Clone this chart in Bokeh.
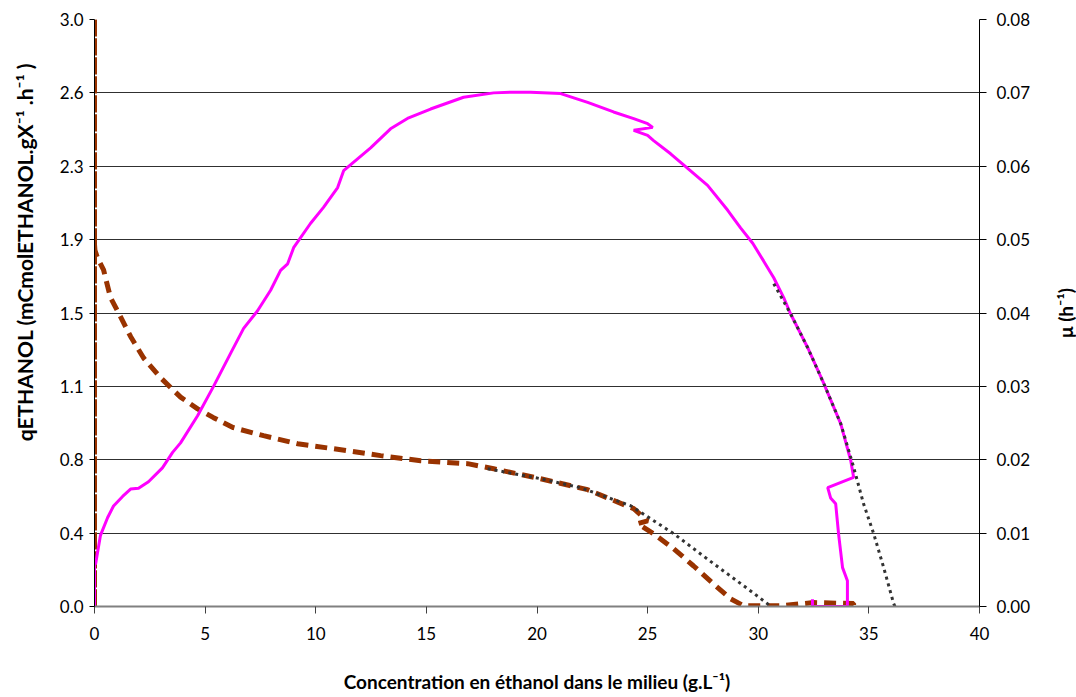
import math
from bokeh.plotting import figure
from bokeh.layouts import row
from bokeh.models import Range1d, LinearAxis, FixedTicker, PrintfTickFormatter
from bokeh.core.properties import value
from bokeh.embed import file_html
from bokeh.resources import INLINE

# ---------------- data ----------------
# qETHANOL (left axis) : measured, brown dashed
q_x = [0.0, 0.0, 0.0, 0.0, 0.02, 0.14, 0.41, 0.72, 1.18, 1.63, 2.22, 2.98, 3.89, 4.66, 5.38,
       6.28, 7.64, 9.18, 11.44, 12.93, 14.74, 16.86, 18.04, 20.16, 22.29, 24.37, 25.00,
       24.55, 25.27, 26.18, 27.08, 27.98, 28.75, 29.34, 31.01, 32.51, 34.31, 34.31]
q_y = [0.0, 3.2, 0.0, 1.85, 1.82, 1.78, 1.72, 1.58, 1.48, 1.38, 1.27, 1.17, 1.07, 1.01, 0.965,
       0.914, 0.873, 0.832, 0.796, 0.771, 0.745, 0.730, 0.704, 0.653, 0.597, 0.500, 0.438,
       0.423, 0.372, 0.295, 0.207, 0.115, 0.039, 0.004, 0.004, 0.020, 0.015, 0.0]

# qETHANOL model (dotted)
qm_x = [17.77, 20.16, 21.97, 24.23, 26.18, 27.98, 29.52, 30.42, 30.56]
qm_y = [0.704, 0.653, 0.607, 0.515, 0.372, 0.219, 0.091, 0.014, 0.0]

# mu (right axis) : measured, magenta
mu_x = [0.0, 0.0, 0.05, 0.27, 0.59, 0.86, 1.27, 1.63, 1.99, 2.44, 3.07, 3.53, 3.89, 4.66,
        5.38, 6.15, 6.74, 7.37, 7.96, 8.41, 8.73, 9.00, 9.76, 10.35, 10.99, 11.26, 11.89,
        12.48, 13.38, 14.20, 15.19, 16.68, 18.04, 18.94, 19.71, 21.07, 22.29, 23.46, 24.37,
        25.00, 25.23, 24.37, 25.00, 25.27, 26.04, 26.81, 27.71, 28.62, 29.20, 29.75, 30.24,
        30.70, 31.15, 31.46, 32.23, 32.96, 33.73, 34.18, 34.31, 33.14, 33.27, 33.50, 33.63,
        33.81, 34.03, 34.03, 34.03, 32.45, 32.45]
mu_y = [0.0, 0.0058, 0.0058, 0.0097, 0.0121, 0.0137, 0.0150, 0.0160, 0.0161, 0.0170,
        0.0189, 0.0210, 0.0223, 0.0260, 0.0300, 0.0345, 0.0379, 0.0403, 0.0431, 0.0458,
        0.0467, 0.0489, 0.0522, 0.0544, 0.0571, 0.0594, 0.0610, 0.0625, 0.0651, 0.0666,
        0.0678, 0.0694, 0.0700, 0.0701, 0.0701, 0.0699, 0.0687, 0.0674, 0.0665, 0.0658,
        0.0653, 0.0649, 0.0642, 0.0635, 0.0617, 0.0597, 0.0574, 0.0540, 0.0516, 0.0495,
        0.0471, 0.0448, 0.0421, 0.0399, 0.0353, 0.0304, 0.0249, 0.0199, 0.0176, 0.0162,
        0.0148, 0.0140, 0.0099, 0.0053, 0.0035, 0.0004, 0.0, 0.0, 0.001]

# mu model (dotted)
mum_x = [30.70, 31.46, 32.23, 32.96, 33.73, 34.31, 34.76, 35.22, 35.67, 36.12, 36.18]
mum_y = [0.0440, 0.0399, 0.0353, 0.0304, 0.0249, 0.0190, 0.0140, 0.0099, 0.0053, 0.0004, 0.0]

x_ticks = [0, 5, 10, 15, 20, 25, 30, 35, 40]
q_ticks = [0.0, 0.375, 0.75, 1.125, 1.5, 1.875, 2.25, 2.625, 3.0]
q_tick_labels = ["0.0", "0.4", "0.8", "1.1", "1.5", "1.9", "2.3", "2.6", "3.0"]
mu_ticks = [0.0, 0.01, 0.02, 0.03, 0.04, 0.05, 0.06, 0.07, 0.08]
mu_title = ["μ (h⁻¹)"]

FONT = "Lato"
H = 696

p = figure(width=1046, height=H, output_backend="svg", toolbar_location=None,
           x_range=Range1d(0, 40), y_range=Range1d(0, 3.0),
           min_border_left=94, min_border_right=67, min_border_top=19, min_border_bottom=90)
p.outline_line_color = None
p.background_fill_color = "white"
p.extra_y_ranges = {"mu": Range1d(0, 0.08)}

# grid
p.xgrid.visible = False
p.ygrid.ticker = FixedTicker(ticks=q_ticks)
p.ygrid.grid_line_color = "#303030"
p.ygrid.grid_line_width = 1

# x axis
xa = p.xaxis[0]
xa.ticker = FixedTicker(ticks=x_ticks)
xa.axis_label = "Concentration en éthanol dans le milieu (g.L⁻¹)"
xa.axis_line_color = "#808080"
xa.axis_line_width = 2
xa.major_tick_out = 7
xa.major_tick_in = 0
xa.major_tick_line_color = "#404040"
xa.minor_tick_line_color = None
xa.major_label_standoff = 13
xa.axis_label_standoff = 27

# left axis
ya = p.yaxis[0]
ya.ticker = FixedTicker(ticks=q_ticks)
ya.major_label_overrides = {t: l for t, l in zip(q_ticks, q_tick_labels)}
ya.axis_label = "\u2007" * 10 + "qETHANOL (mCmolETHANOL.gX⁻¹ .h⁻¹ )"
ya.axis_line_color = "black"
ya.major_tick_out = 5
ya.major_tick_in = 0
ya.minor_tick_line_color = None
ya.major_label_standoff = 6
ya.axis_label_standoff = 20

# right axis
ra = LinearAxis(y_range_name="mu", ticker=FixedTicker(ticks=mu_ticks),
                formatter=PrintfTickFormatter(format="%.2f"))
ra.axis_line_color = "black"
ra.major_tick_out = 7
ra.major_tick_in = 0
ra.minor_tick_line_color = None
ra.major_label_standoff = 10
p.add_layout(ra, "right")

for ax in [xa, ya, ra]:
    ax.major_label_text_font = FONT
    ax.major_label_text_font_size = "17px"
    ax.major_label_text_color = "black"
    ax.axis_label_text_font = FONT
    ax.axis_label_text_font_size = "19px"
    ax.axis_label_text_font_style = "bold"
    ax.axis_label_text_color = "black"
ya.axis_label_text_font_size = "21px"

# series
p.line(q_x, q_y, line_color="#993300", line_width=5, line_dash="12 7")
p.line(mu_x, mu_y, line_color="#FF00FF", line_width=3, y_range_name="mu")
p.line(qm_x, qm_y, line_color="#333333", line_width=3, line_dash="3 4")
p.line(mum_x, mum_y, line_color="#333333", line_width=3, line_dash="3 4", y_range_name="mu")

# narrow side strip holding the right axis title (reads bottom-to-top)
p2 = figure(width=30, height=H, output_backend="svg", toolbar_location=None,
            x_range=Range1d(0, 1), y_range=Range1d(0, 0.08),
            min_border_left=0, min_border_right=0, min_border_top=19, min_border_bottom=90)
p2.axis.visible = False
p2.grid.visible = False
p2.outline_line_color = None
p2.text(x=[0.62], y=[0.04], text=mu_title, angle=math.pi / 2,
        text_align="center", text_baseline="middle", text_font=value(FONT),
        text_font_size="19px", text_font_style="bold", text_color="black")

open("out.html", "w").write(file_html(row(p, p2, spacing=0), INLINE))
